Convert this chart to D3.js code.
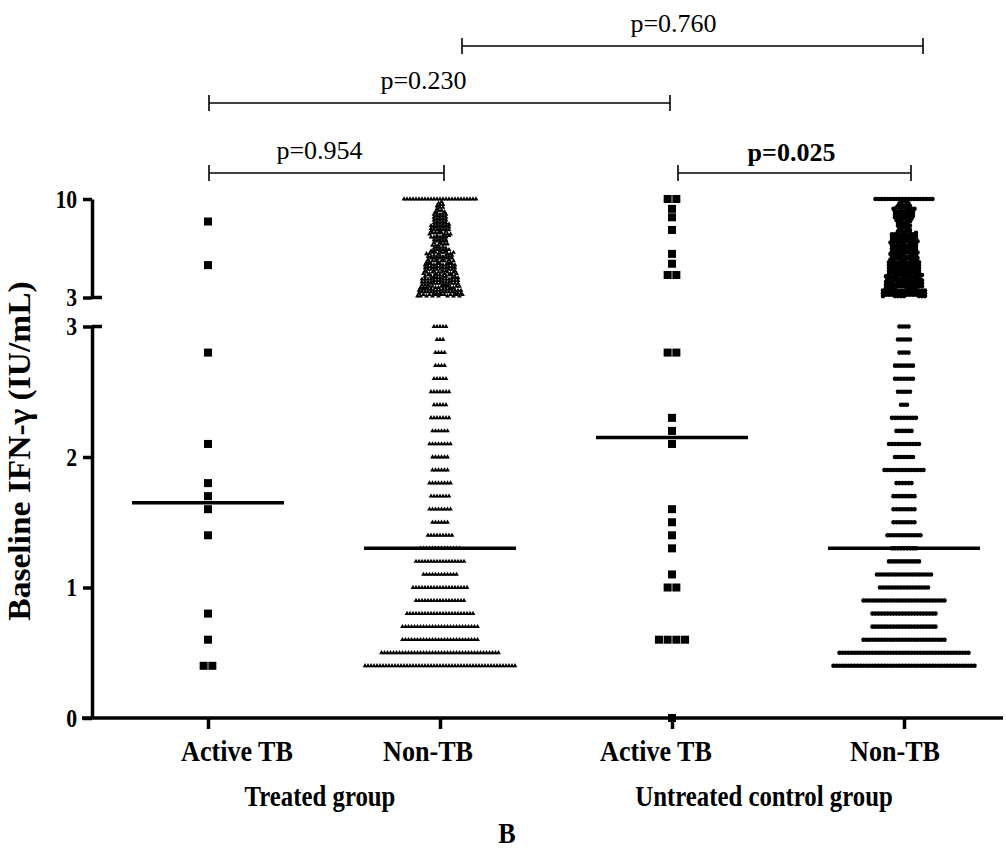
<!DOCTYPE html>
<html>
<head>
<meta charset="utf-8">
<script src="https://cdn.jsdelivr.net/npm/d3@7"></script>
<style>
  body { margin: 0; background: #fff; }
  svg { display: block; }
  text { font-family: "Liberation Serif", "Times New Roman", serif; fill: #000; }
</style>
</head>
<body>
<div id="chart"></div>
<script>
// ---- data ----
const columns = ["txActive", "txNon", "unActive", "unNon"];
const columnLabels = ["Active TB", "Non-TB", "Active TB", "Non-TB"];
const groupLabels = ["Treated group", "Untreated control group"];
const lowerTicks = [0, 1, 2, 3];
const upperTicks = [3, 10];
const medians = [1.65, 1.3, 2.15, 1.3];

const treatedActiveTB = [8.4, 5.3, 2.8, 2.1, 1.8, 1.7, 1.6, 1.4, 0.8, 0.6, 0.4, 0.4];
const untreatedActiveTB = [10, 10, 9.3, 8.7, 7.8, 6.1, 5.4, 4.6, 4.6, 2.8, 2.8, 2.3, 2.2, 2.1,
  1.6, 1.5, 1.4, 1.3, 1.1, 1.0, 1.0, 0.6, 0.6, 0.6, 0.6, 0];

// Non-TB values are recorded to 0.1 IU/mL: counts per level
const lowerLevels = [0.4, 0.5, 0.6, 0.7, 0.8, 0.9, 1.0, 1.1, 1.2, 1.3, 1.4, 1.5, 1.6, 1.7, 1.8,
  1.9, 2.0, 2.1, 2.2, 2.3, 2.4, 2.5, 2.6, 2.7, 2.8, 2.9, 3.0];
const treatedNonTBLower = [51, 40, 26, 26, 23, 17, 19, 12, 17, 14, 9, 6, 8, 7, 8, 6, 6, 8, 6, 7, 5, 7, 5, 4, 4, 3, 5];
const untreatedNonTBLower = [48, 44, 28, 22, 22, 28, 17, 19, 11, 9, 12, 8, 8, 8, 6, 14, 7, 11, 6, 9, 3, 5, 7, 7, 4, 5, 4];

const upperLevels = [3.1, 3.2, 3.3, 3.4, 3.5, 3.6, 3.7, 3.8, 3.9, 4.0, 4.1, 4.2, 4.3, 4.4, 4.5, 4.6,
  4.7, 4.8, 4.9, 5.0, 5.1, 5.2, 5.3, 5.4, 5.5, 5.6, 5.7, 5.8, 5.9, 6.0, 6.1, 6.2, 6.3, 6.4, 6.5,
  6.6, 6.7, 6.8, 6.9, 7.0, 7.1, 7.2, 7.3, 7.4, 7.5, 7.6, 7.7, 7.8, 7.9, 8.0, 8.1, 8.2, 8.3, 8.4,
  8.5, 8.6, 8.7, 8.8, 8.9, 9.0, 9.1, 9.2, 9.3, 9.4, 9.5, 9.6, 9.7, 9.8];
const treatedNonTBUpper = [8, 8, 7, 8, 7, 8, 7, 7, 6, 7, 7, 6, 7, 6, 6, 5, 6, 6, 5, 6, 5, 6, 5, 6,
  5, 5, 4, 5, 5, 4, 5, 5, 4, 3, 3, 2, 3, 3, 2, 3, 3, 2, 4, 3, 4, 4, 3, 4, 3, 4, 4, 3,
  3, 2, 3, 2, 3, 2, 3, 2, 2, 2, 1, 2, 1, 2, 1, 1];
const untreatedNonTBUpper = [8, 7, 8, 7, 8, 7, 7, 6, 7, 6, 6, 7, 6, 6, 7, 6, 6, 5, 6, 5, 6, 5, 6, 5,
  6, 5, 5, 5, 4, 5, 5, 5, 4, 5, 5, 4, 5, 4, 5, 5, 4, 5, 4, 5, 5, 4, 2, 3, 2, 2, 3, 2, 2, 3, 2,
  4, 3, 4, 4, 3, 4, 3, 4, 4, 3, 2, 2, 2];
const treatedNonTBTop = 25;    // values at the 10 IU/mL ceiling
const untreatedNonTBTop = 20;

const comparisons = [
  { from: 0, to: 1, label: "p=0.954", bold: false },
  { from: 2, to: 3, label: "p=0.025", bold: true },
  { from: 0, to: 2, label: "p=0.230", bold: false },
  { from: 1, to: 3, label: "p=0.760", bold: false }
];

// ---- layout ----
const W = 1006, H = 852;
const axisX = 92, axisBottom = 718;
const bracketLayout = [
  { y: 173, d0: 1, d1: 4, tx: -7 },
  { y: 173, d0: 6, d1: 7, tx: -3 },
  { y: 103, d0: 1, d1: -2, tx: -16 },
  { y: 46, d0: 22, d1: 19, tx: -19 }
];
const labelShift = [29, -12, -16, -9];   // category labels sit a little off their ticks
const squeeze = 0.87;

const svg = d3.select("#chart").append("svg")
  .attr("width", W).attr("height", H);
svg.append("rect").attr("width", W).attr("height", H).attr("fill", "#fff");

const x = d3.scalePoint().domain(columns).range([axisX, 1020]).padding(0.5);
const yLow = d3.scaleLinear().domain([0, 3]).range([axisBottom, 326.5]);
const yHigh = d3.scaleLinear().domain([3, 10]).range([297.5, 199]);
const yPos = v => v <= 3 ? yLow(v) : yHigh(v);

function expand(levels, counts) {
  const out = [];
  levels.forEach((lv, i) => { for (let k = 0; k < counts[i]; k++) out.push(lv); });
  return out;
}
const treatedNonTB = expand(lowerLevels, treatedNonTBLower)
  .concat(expand(upperLevels, treatedNonTBUpper), d3.range(treatedNonTBTop).map(() => 10));
const untreatedNonTB = expand(lowerLevels, untreatedNonTBLower)
  .concat(expand(upperLevels, untreatedNonTBUpper), d3.range(untreatedNonTBTop).map(() => 10));

const series = [
  { col: "txActive", values: treatedActiveTB, shape: "square", sp: 8.7 },
  { col: "txNon", values: treatedNonTB, shape: "triangle", sp: 3 },
  { col: "unActive", values: untreatedActiveTB, shape: "square", sp: 8.7 },
  { col: "unNon", values: untreatedNonTB, shape: "circle", sp: 3 }
];

// Rows: one per level below the break, 0.2-wide bands above it
const rowKey = v => v <= 3 ? "L" + v.toFixed(1) : "U" + Math.floor((v - 3.05) / 0.2 + 1e-9);
const gcd = (a, b) => b ? gcd(b, a % b) : a;

function layout(s) {
  const pts = [];
  const rows = d3.group(s.values, rowKey);
  rows.forEach(vals => {
    const sorted = vals.slice().sort(d3.ascending);
    const n = sorted.length;
    const k = [7, 5, 3, 1].find(c => gcd(c, n) === 1);
    sorted.forEach((v, i) => {
      const slot = (i * k) % n;
      pts.push({ v, cx: x(s.col) + (slot - (n - 1) / 2) * s.sp, cy: yPos(v) });
    });
  });
  return pts;
}

const tri = d3.symbol().type(d3.symbolTriangle).size(10)();
const marks = svg.append("g");
series.forEach(s => {
  const pts = layout(s);
  const g = marks.append("g");
  if (s.shape === "square") {
    g.selectAll("rect").data(pts).join("rect")
      .attr("x", d => d.cx - 4).attr("y", d => d.cy - 4)
      .attr("width", 8).attr("height", 8).attr("fill", "#000");
  } else if (s.shape === "triangle") {
    g.selectAll("path").data(pts).join("path")
      .attr("d", tri).attr("transform", d => `translate(${d.cx},${d.cy})`)
      .attr("fill", "#000");
  } else {
    g.selectAll("circle").data(pts).join("circle")
      .attr("cx", d => d.cx).attr("cy", d => d.cy).attr("r", 2.3).attr("fill", "#000");
  }
});

// medians
svg.append("g").selectAll("line").data(medians).join("line")
  .attr("x1", (d, i) => x(columns[i]) - 76).attr("x2", (d, i) => x(columns[i]) + 76)
  .attr("y1", d => yPos(d)).attr("y2", d => yPos(d))
  .attr("stroke", "#000").attr("stroke-width", 3.5);

// ---- axes ----
function styleAxis(g) {
  g.selectAll("path, line").attr("stroke", "#000").attr("stroke-width", 3.5);
  g.selectAll("text").attr("font-size", 25).attr("font-weight", "bold")
    .attr("x", -17).attr("transform", `scale(${squeeze},1)`);
}
svg.append("g").attr("transform", `translate(${axisX},0)`)
  .call(d3.axisLeft(yLow).tickValues(lowerTicks).tickSize(9).tickSizeOuter(0).tickFormat(d3.format("d")))
  .call(styleAxis);
svg.append("g").attr("transform", `translate(${axisX},0)`)
  .call(d3.axisLeft(yHigh).tickValues(upperTicks).tickSize(9).tickSizeOuter(0).tickFormat(d3.format("d")))
  .call(styleAxis);
// break caps
svg.append("g").selectAll("line").data([yLow(3), yHigh(3)]).join("line")
  .attr("x1", axisX).attr("x2", axisX + 10).attr("y1", d => d).attr("y2", d => d)
  .attr("stroke", "#000").attr("stroke-width", 3.5);

const xAxis = svg.append("g").attr("transform", `translate(0,${axisBottom})`)
  .call(d3.axisBottom(x).tickSize(11).tickSizeOuter(0).tickFormat(""));
xAxis.select(".domain").remove();
xAxis.selectAll("line").attr("stroke", "#000").attr("stroke-width", 3.5);
svg.append("line").attr("x1", axisX - 10).attr("x2", 1003)
  .attr("y1", axisBottom).attr("y2", axisBottom)
  .attr("stroke", "#000").attr("stroke-width", 3.5);

function label(txt, cx, cy, size, bold) {
  svg.append("text")
    .attr("transform", `translate(${cx},${cy}) scale(${squeeze},1)`)
    .attr("text-anchor", "middle").attr("font-size", size)
    .attr("font-weight", bold ? "bold" : "normal").text(txt);
}
columns.forEach((c, i) => label(columnLabels[i], x(c) + labelShift[i], 761, 30, true));
label(groupLabels[0], (x(columns[0]) + x(columns[1])) / 2 - 4, 806, 28.5, true);
label(groupLabels[1], (x(columns[2]) + x(columns[3])) / 2 - 24, 806, 28.5, true);
label("B", 507, 843, 30, true);

svg.append("text")
  .attr("transform", `translate(30,451) rotate(-90) scale(1,0.95)`)
  .attr("text-anchor", "middle").attr("font-size", 33.5).attr("font-weight", "bold")
  .text("Baseline IFN-\u03b3 (IU/mL)");

// ---- comparison brackets ----
const br = svg.append("g");
comparisons.forEach((c, i) => {
  const L = bracketLayout[i];
  const x0 = x(columns[c.from]) + L.d0, x1 = x(columns[c.to]) + L.d1;
  br.append("line").attr("x1", x0).attr("x2", x1).attr("y1", L.y).attr("y2", L.y);
  [x0, x1].forEach(xx => br.append("line").attr("x1", xx).attr("x2", xx)
    .attr("y1", L.y - 8).attr("y2", L.y + 8));
  br.append("text").attr("x", (x0 + x1) / 2 + L.tx).attr("y", L.y - (c.bold ? 12 : 14))
    .attr("text-anchor", "middle").attr("font-size", 26)
    .attr("font-weight", c.bold ? "bold" : "normal").text(c.label);
});
br.selectAll("line").attr("stroke", "#000").attr("stroke-width", 1.6);
</script>
</body>
</html>
